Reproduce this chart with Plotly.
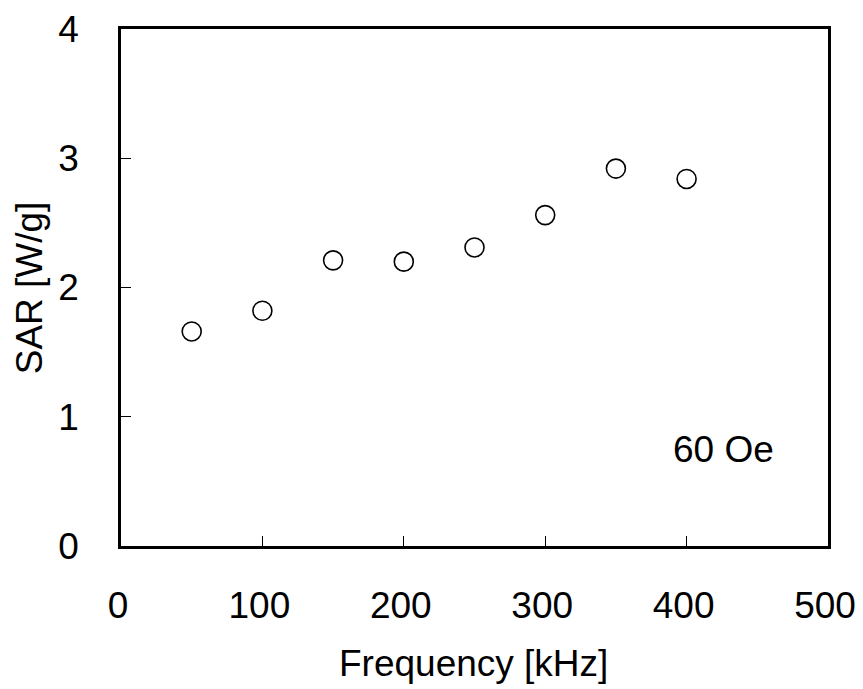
import plotly.graph_objects as go

# SAR vs frequency at 60 Oe
freq_khz = [50, 100, 150, 200, 250, 300, 350, 400]
sar_wg = [1.66, 1.82, 2.21, 2.20, 2.31, 2.56, 2.92, 2.84]

x_ticks = [0, 100, 200, 300, 400, 500]
y_ticks = [0, 1, 2, 3, 4]

font = dict(family="Liberation Sans, Arial, sans-serif", color="black")

fig = go.Figure()
fig.add_trace(go.Scatter(
    x=freq_khz, y=sar_wg, mode="markers",
    marker=dict(symbol="circle-open", size=19, color="black", line=dict(width=1.6)),
    showlegend=False,
))

axis_common = dict(
    showline=True, linecolor="black", linewidth=2.5, mirror=True,
    ticks="inside", ticklen=10, tickwidth=1, tickcolor="black",
    showgrid=False, zeroline=False,
    tickfont=dict(size=37, **font),
)
fig.update_xaxes(range=[0, 500], tickvals=x_ticks, ticklabelstandoff=25,
                 ticklabelshift=-3, **axis_common)
fig.update_yaxes(range=[0, 4], tickvals=y_ticks, ticklabelstandoff=32, **axis_common)

fig.add_annotation(text="Frequency [kHz]", xref="paper", yref="paper",
                   x=0.498, y=-0.228, xanchor="center", yanchor="middle",
                   showarrow=False, font=dict(size=37, **font))
fig.add_annotation(text="SAR [W/g]", xref="paper", yref="paper", textangle=-90,
                   x=-0.129, y=0.5, xanchor="center", yanchor="middle",
                   showarrow=False, font=dict(size=37, **font))
fig.add_annotation(text="60 Oe", x=426, y=0.75, showarrow=False,
                   xanchor="center", yanchor="middle", font=dict(size=37, **font))

# page body adds an 8px margin, so the figure is a bit smaller than the window
fig.update_layout(
    width=855, height=681,
    margin=dict(l=113, r=35, t=21, b=143, autoexpand=False),
    plot_bgcolor="white", paper_bgcolor="white",
)

fig.write_html("out.html")
